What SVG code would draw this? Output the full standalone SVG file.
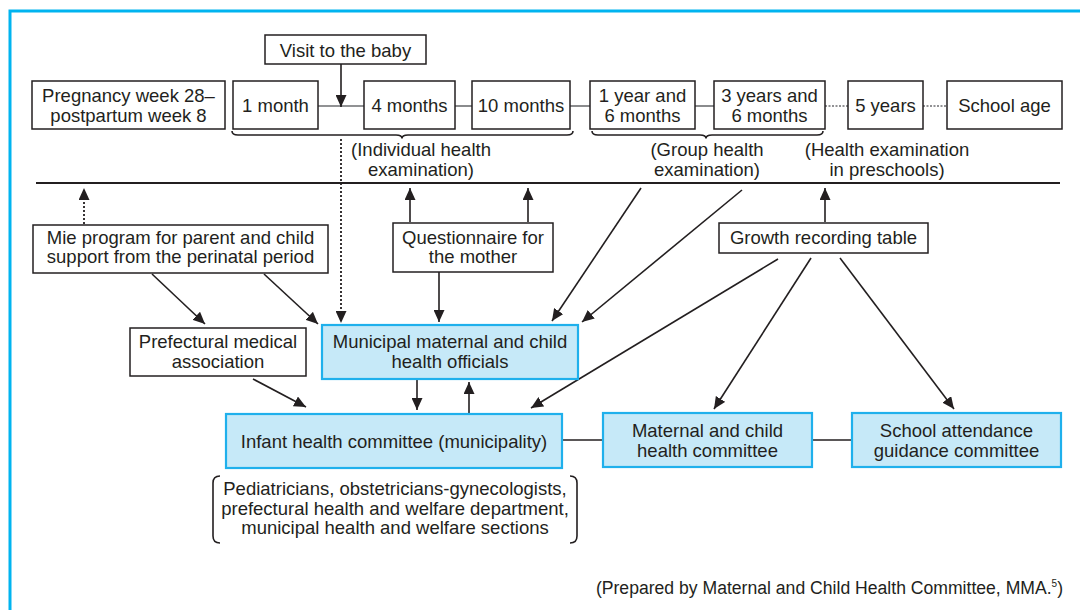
<svg xmlns="http://www.w3.org/2000/svg" width="1080" height="610" viewBox="0 0 1080 610">
<style>
text{font-family:"Liberation Sans",Arial,sans-serif;font-size:18.5px;fill:#231f20;text-anchor:middle}
.box{fill:#fff;stroke:#231f20;stroke-width:1.5}
.blue{fill:#c6e9f8;stroke:#1fb0ec;stroke-width:2.2}
.c{fill:none;stroke:#231f20;stroke-width:1.6}
.g{fill:none;stroke:#6d6e71;stroke-width:1.6}
.d{fill:none;stroke:#231f20;stroke-width:1.8;stroke-dasharray:2 2}
.gd{fill:none;stroke:#6d6e71;stroke-width:1.6;stroke-dasharray:2 1.5}
.a{marker-end:url(#ah)}
</style>
<defs>
<marker id="ah" viewBox="0 0 12 11" refX="12" refY="5.5" markerWidth="12" markerHeight="11" orient="auto" markerUnits="userSpaceOnUse">
<path d="M0,0 L12,5.5 L0,11 z" fill="#231f20"/>
</marker>
</defs>
<rect x="0" y="0" width="1080" height="610" fill="#fff"/>
<rect x="10" y="11" width="1100" height="700" fill="none" stroke="#00b4f0" stroke-width="3"/>

<g id="connectors">
<line class="g" x1="318" y1="106" x2="364" y2="106"/>
<line class="g" x1="455" y1="106" x2="472" y2="106"/>
<line class="g" x1="570" y1="106" x2="590" y2="106"/>
<line class="g" x1="695" y1="106" x2="714" y2="106"/>
<line class="gd" x1="825" y1="106" x2="848" y2="106"/>
<line class="gd" x1="923" y1="106" x2="947" y2="106"/>
<line class="c a" x1="341" y1="64" x2="341" y2="107"/>
<path class="c" d="M232,131 Q232,135 238,135 L396,135 Q402,135 402,138.5 Q402,135 408,135 L567,135 Q573,135 573,131"/>
<path class="c" d="M592,131 Q592,135 598,135 L700,135 Q706,135 706,138.5 Q706,135 712,135 L817,135 Q823,135 823,131"/>
<line x1="36" y1="183" x2="1060" y2="183" stroke="#231f20" stroke-width="2"/>
<line class="d a" x1="341" y1="139" x2="341" y2="323"/>
<line class="d a" x1="84" y1="224" x2="84" y2="188"/>
<line class="c a" x1="410" y1="222" x2="410" y2="188"/>
<line class="c a" x1="528" y1="222" x2="528" y2="188"/>
<line class="c a" x1="439" y1="272" x2="439" y2="322"/>
<line class="c a" x1="152" y1="274" x2="205" y2="324"/>
<line class="c a" x1="264" y1="274" x2="318" y2="324"/>
<line class="c a" x1="641" y1="188" x2="552" y2="321"/>
<line class="c a" x1="742" y1="190" x2="582" y2="322"/>
<line class="c a" x1="825" y1="222" x2="825" y2="188"/>
<line class="c a" x1="778" y1="259" x2="531" y2="408"/>
<line class="c a" x1="811" y1="258" x2="714" y2="409"/>
<line class="c a" x1="840" y1="258" x2="954" y2="409"/>
<line class="c a" x1="253" y1="379" x2="306" y2="407"/>
<line class="c a" x1="417" y1="379" x2="417" y2="410"/>
<line class="c a" x1="469" y1="413" x2="469" y2="382"/>
<line class="c" x1="562" y1="440" x2="603" y2="440"/>
<line class="c" x1="812" y1="440" x2="852" y2="440"/>
<path class="c" d="M220,476 Q213,476 213,483 L213,536 Q213,543 220,543"/>
<path class="c" d="M570,476 Q577,476 577,483 L577,536 Q577,543 570,543"/>
</g>

<g id="pregnancy"><rect class="box" x="32" y="81" width="193" height="48"/><text x="128.5" y="102">Pregnancy week 28–</text><text x="128.5" y="122">postpartum week 8</text></g>
<g id="visit"><rect class="box" x="265" y="35" width="161" height="29"/><text x="345.5" y="57">Visit to the baby</text></g>
<g id="m1"><rect class="box" x="233" y="81" width="85" height="48"/><text x="275.5" y="112">1 month</text></g>
<g id="m4"><rect class="box" x="364" y="81" width="91" height="48"/><text x="409.5" y="112">4 months</text></g>
<g id="m10"><rect class="box" x="472" y="81" width="98" height="48"/><text x="521" y="112">10 months</text></g>
<g id="y1m6"><rect class="box" x="590" y="81" width="105" height="48"/><text x="642.5" y="102">1 year and</text><text x="642.5" y="122">6 months</text></g>
<g id="y3m6"><rect class="box" x="714" y="81" width="111" height="48"/><text x="769.5" y="102">3 years and</text><text x="769.5" y="122">6 months</text></g>
<g id="y5"><rect class="box" x="848" y="81" width="75" height="48"/><text x="885.5" y="112">5 years</text></g>
<g id="school"><rect class="box" x="947" y="81" width="115" height="48"/><text x="1004.5" y="112">School age</text></g>

<g id="labels">
<text x="421" y="156">(Individual health</text><text x="421" y="176">examination)</text>
<text x="707" y="156">(Group health</text><text x="707" y="176">examination)</text>
<text x="887" y="156">(Health examination</text><text x="887" y="176">in preschools)</text>
</g>

<g id="mie"><rect class="box" x="33" y="225" width="295" height="48"/><text x="180.5" y="244">Mie program for parent and child</text><text x="180.5" y="263">support from the perinatal period</text></g>
<g id="questionnaire"><rect class="box" x="393" y="223" width="160" height="49"/><text x="473" y="244">Questionnaire for</text><text x="473" y="263">the mother</text></g>
<g id="growth"><rect class="box" x="719" y="223" width="209" height="30"/><text x="823.5" y="244">Growth recording table</text></g>
<g id="prefectural"><rect class="box" x="130" y="328" width="176" height="48"/><text x="218" y="348">Prefectural medical</text><text x="218" y="368">association</text></g>
<g id="municipal"><rect class="blue" x="322" y="325" width="256" height="54"/><text x="450" y="348">Municipal maternal and child</text><text x="450" y="368">health officials</text></g>
<g id="infant"><rect class="blue" x="226" y="414" width="336" height="54"/><text x="394" y="448">Infant health committee (municipality)</text></g>
<g id="maternal"><rect class="blue" x="603" y="413" width="209" height="54"/><text x="707.5" y="437">Maternal and child</text><text x="707.5" y="457">health committee</text></g>
<g id="schoolcom"><rect class="blue" x="852" y="413" width="209" height="54"/><text x="956.5" y="437">School attendance</text><text x="956.5" y="457">guidance committee</text></g>
<g id="members">
<text x="395" y="495">Pediatricians, obstetricians-gynecologists,</text>
<text x="395" y="515">prefectural health and welfare department,</text>
<text x="395" y="534">municipal health and welfare sections</text>
</g>
<text x="1063" y="594" style="text-anchor:end;font-size:17.6px">(Prepared by Maternal and Child Health Committee, MMA.<tspan dy="-7" font-size="10">5</tspan><tspan dy="7">)</tspan></text>
</svg>
